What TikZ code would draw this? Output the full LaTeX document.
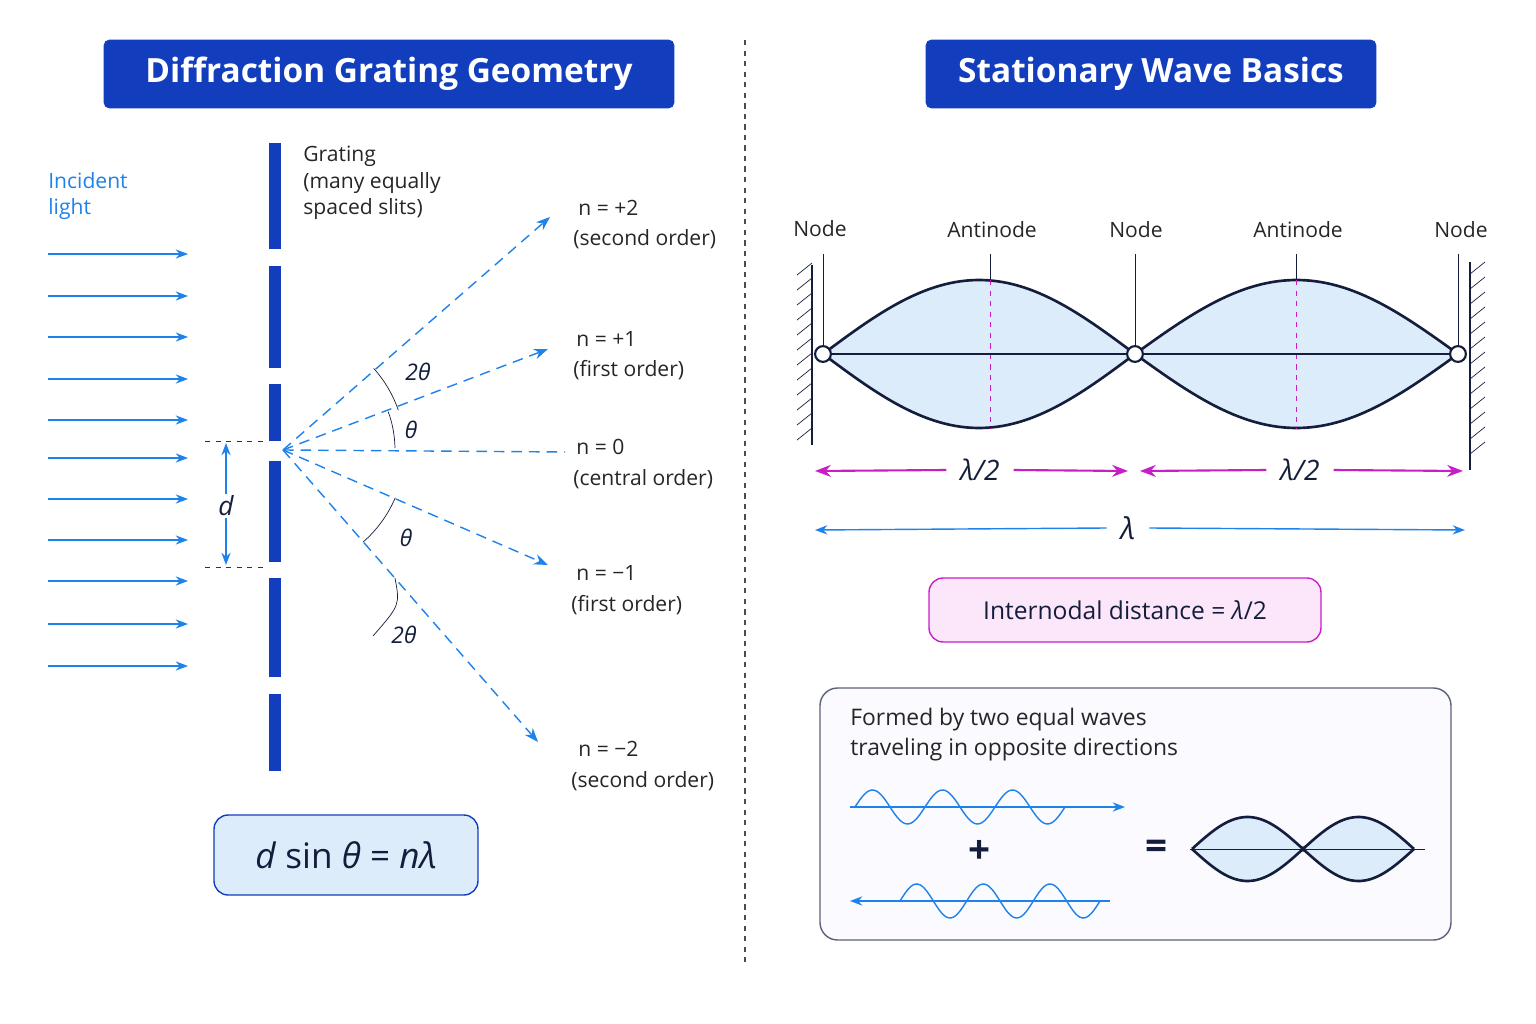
\documentclass[tikz,border=0pt]{standalone}
\usepackage{fontspec}
\setmainfont{Open Sans}
\usepackage{tikz}
\usetikzlibrary{calc,arrows.meta,positioning}
\definecolor{myblue}{RGB}{18,62,190}
\definecolor{raysky}{RGB}{30,130,235}
\definecolor{mylobe}{RGB}{220,236,250}
\definecolor{mymagenta}{RGB}{200,30,200}
\definecolor{mypink}{RGB}{252,230,250}
\definecolor{mynavy}{RGB}{20,30,60}
\tikzstyle{titlebox}=[draw=myblue,fill=myblue,rounded corners=3pt,text=white,font=\fontsize{19}{22}\selectfont\bfseries,minimum height=1.36cm,inner sep=0pt]
\tikzstyle{lbl}=[font=\fontsize{12}{15}\selectfont,text=black!85,align=left,inner sep=0pt]
\tikzstyle{anglbl}=[font=\fontsize{13}{15}\selectfont\itshape,text=mynavy]
\tikzstyle{beam}=[raysky,thick,-{Stealth[length=7pt]}]
\tikzstyle{ray}=[raysky,thick,dash pattern=on 6pt off 4pt]
\tikzstyle{slit}=[fill=myblue,draw=none]
\tikzstyle{dot}=[circle,draw=mynavy,fill=white,line width=1.2pt,minimum size=9pt,inner sep=0pt]
\tikzstyle{halfarrow}=[mymagenta,line width=1.2pt,-{Stealth[length=9pt]}]
\tikzstyle{loop}=[mynavy,line width=1.5pt]
\begin{document}
\begin{tikzpicture}[x=0.02cm,y=-0.02cm]
\useasboundingbox (0,0) rectangle (1536,1024);
% titles and divider
\node[titlebox,minimum width=11.4cm] (t1) at (389,74) {Diffraction Grating Geometry};
\node[titlebox,minimum width=9cm] (t2) at (1151,74) {Stationary Wave Basics};
\draw[black!70,dashed,thick] (745,40) -- (745,965);
% incident light
\node[lbl,text=raysky,anchor=north west] (inc) at (48,172) {Incident\\light};
\foreach \y in {254,296,337,379,420,458,499,540,581,624,666}
  \draw[beam] (48,\y) -- (188,\y);
% grating
\foreach \a/\b in {143/249,266/368,384/441,461/562,578/677,694/771}
  \fill[slit] (269,\a) rectangle (281,\b);
\node[lbl,anchor=north west] (grat) at (303,146) {Grating\\(many equally\\spaced slits)};
% slit spacing
\draw[black!80,dashed] (205,441) -- (265,441) (205,567) -- (265,567);
\draw[raysky,thick,{Stealth[length=7pt]}-{Stealth[length=7pt]}] (226,443) -- (226,565);
\node[fill=white,inner sep=1pt,font=\fontsize{15}{16}\selectfont\itshape,text=mynavy] (dl) at (226,506) {d};
% rays
\coordinate (s) at (283,450);
\coordinate (p2) at (550,217);
\coordinate (p1) at (548,349);
\coordinate (p0) at (565,452);
\coordinate (m1) at (548,565);
\coordinate (m2) at (538,742);
\draw[ray,-{Stealth[length=8pt]}] (s) -- (p2);
\draw[ray,-{Stealth[length=8pt]}] (s) -- (p1);
\draw[ray] (s) -- (p0);
\draw[ray,-{Stealth[length=8pt]}] (s) -- (m1);
\draw[ray,-{Stealth[length=8pt]}] (s) -- (m2);
% angles
\draw[mynavy] ($(s)+(-1:112)$) arc[start angle=-1,end angle=-20,radius=112];
\draw[mynavy] ($(s)+(-19:122)$) arc[start angle=-19,end angle=-42,radius=122];
\draw[mynavy] ($(s)+(23:122)$) arc[start angle=23,end angle=49,radius=122];
\draw[mynavy] (395,578) .. controls (400,605) .. (373,636);
\node[anglbl] (a1) at (411,430) {θ};
\node[anglbl] (a2) at (418,372) {2θ};
\node[anglbl] (a3) at (406,538) {θ};
\node[anglbl] (a4) at (404,635) {2θ};
% order labels
\node[lbl,anchor=west] (np2) at (578,208) {n = +2};
\node[lbl,anchor=west] (sp2) at (573,239) {(second order)};
\node[lbl,anchor=west] (np1) at (576,339) {n = +1};
\node[lbl,anchor=west] (sp1) at (573,370) {(first order)};
\node[lbl,anchor=west] (n0) at (576,447) {n = 0};
\node[lbl,anchor=west] (s0) at (573,479) {(central order)};
\node[lbl,anchor=west] (nm1) at (576,573) {n = −1};
\node[lbl,anchor=west] (sm1) at (571,605) {(first order)};
\node[lbl,anchor=west] (nm2) at (578,749) {n = −2};
\node[lbl,anchor=west] (sm2) at (571,781) {(second order)};
% grating equation
\node[draw=myblue,thick,fill=mylobe,rounded corners=8pt,minimum width=5.28cm,minimum height=1.6cm,font=\fontsize{20}{24}\selectfont,text=mynavy] (eq) at (346,855) {\textit{d} sin \textit{θ} = \textit{nλ}};
% walls
\draw[thick,mynavy] (812,265) -- (812,445);
\foreach \y in {275,290,...,440} \draw[mynavy] (812,\y-12) -- (797,\y);
\draw[thick,mynavy] (1470,262) -- (1470,470);
\foreach \y in {262,277,...,455} \draw[mynavy] (1470,\y+12) -- (1485,\y);
% stationary wave
\fill[mylobe] plot[domain=0:180,samples=60] ({823+\x/180*312},{354-74*sin(\x)}) -- plot[domain=180:0,samples=60] ({823+\x/180*312},{354+74*sin(\x)}) -- cycle;
\fill[mylobe] plot[domain=0:180,samples=60] ({1135+\x/180*323},{354-74*sin(\x)}) -- plot[domain=180:0,samples=60] ({1135+\x/180*323},{354+74*sin(\x)}) -- cycle;
\draw[loop] plot[domain=0:180,samples=60] ({823+\x/180*312},{354-74*sin(\x)});
\draw[loop] plot[domain=0:180,samples=60] ({823+\x/180*312},{354+74*sin(\x)});
\draw[loop] plot[domain=0:180,samples=60] ({1135+\x/180*323},{354-74*sin(\x)});
\draw[loop] plot[domain=0:180,samples=60] ({1135+\x/180*323},{354+74*sin(\x)});
\draw[mymagenta,dashed] (990,280) -- (990,428) (1296,280) -- (1296,428);
\node[dot] (k1) at (823,354) {};
\node[dot] (k2) at (1135,354) {};
\node[dot] (k3) at (1458,354) {};
\draw[mynavy,thick] (k1) -- (k2) -- (k3);
\node[lbl] (lk1) at (820,229) {Node};
\node[lbl] (la1) at (992,230) {Antinode};
\node[lbl] (lk2) at (1136,230) {Node};
\node[lbl] (la2) at (1298,230) {Antinode};
\node[lbl] (lk3) at (1461,230) {Node};
\draw[mynavy] (k1) -- (823,254) (k2) -- (1135,254) (k3) -- (1458,254);
\draw[mynavy] (990,280) -- (990,254) (1296,280) -- (1296,254);
% lengths
\node[font=\fontsize{16}{18}\selectfont\itshape,text=mynavy] (h1) at (980,470) {λ/2};
\node[font=\fontsize{16}{18}\selectfont\itshape,text=mynavy] (h2) at (1300,470) {λ/2};
\node[font=\fontsize{17}{18}\selectfont\itshape,text=mynavy] (w) at (1128,528) {λ};
\draw[halfarrow] (h1.west) ++(-8,0) -- (815,471);
\draw[halfarrow] (h1.east) ++(8,0) -- (1128,471);
\draw[halfarrow] (h2.west) ++(-8,0) -- (1140,471);
\draw[halfarrow] (h2.east) ++(8,0) -- (1463,471);
\draw[beam] (w.west) ++(-8,0) -- (815,530);
\draw[beam] (w.east) ++(8,0) -- (1465,530);
% internodal distance
\node[draw=mymagenta,thick,fill=mypink,rounded corners=8pt,minimum width=7.84cm,minimum height=1.28cm,font=\fontsize{14}{17}\selectfont,text=mynavy] (int) at (1125,610) {Internodal distance = \textit{λ}/2};
% superposition box
\draw[mynavy!70,thick,fill=blue!2,rounded corners=10pt] (820,688) rectangle (1451,940);
\node[lbl,anchor=north west,font=\fontsize{13}{17}\selectfont] (form) at (850,708) {Formed by two equal waves\\traveling in opposite directions};
\draw[raysky,thick] plot[domain=0:1080,samples=90] ({855+\x/1080*210},{807-17*sin(\x)});
\coordinate (wr) at (1125,807);
\draw[beam] (850,807) -- (wr);
\draw[raysky,thick] plot[domain=0:1080,samples=90] ({900+\x/1080*200},{901-17*sin(\x)});
\coordinate (wl) at (850,901);
\draw[beam] (1110,901) -- (wl);
\node[font=\fontsize{22}{22}\selectfont\bfseries,text=mynavy] (plus) at (980,852) {+};
\node[font=\fontsize{22}{22}\selectfont\bfseries,text=mynavy] (eqs) at (1157,850) {=};
\fill[mylobe] plot[domain=0:360,samples=80] ({1192+\x/360*222},{849-32*abs(sin(\x))}) -- plot[domain=360:0,samples=80] ({1192+\x/360*222},{849+32*abs(sin(\x))}) -- cycle;
\draw[loop] plot[domain=0:360,samples=80] ({1192+\x/360*222},{849-32*abs(sin(\x))});
\draw[loop] plot[domain=0:360,samples=80] ({1192+\x/360*222},{849+32*abs(sin(\x))});
\draw[mynavy] (1190,849) -- (1425,849);
\end{tikzpicture}
\end{document}
